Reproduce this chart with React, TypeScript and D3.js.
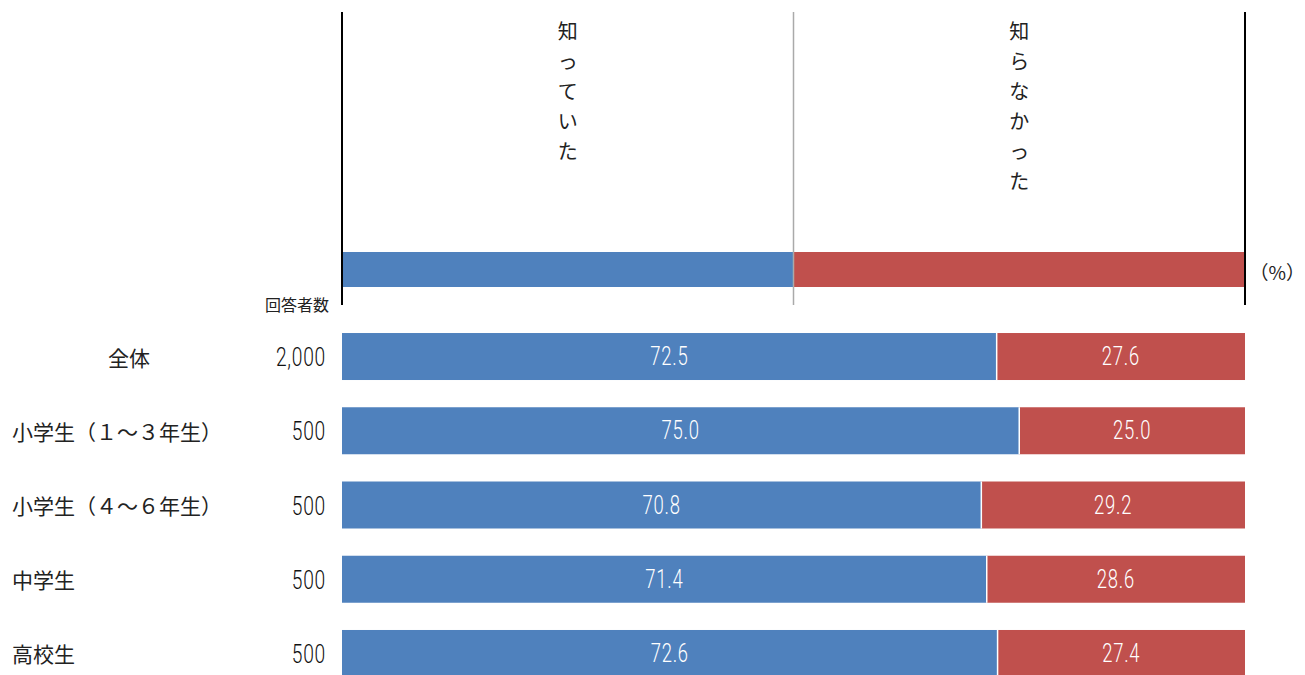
import React from "react";
import * as d3 from "d3";

const categories = ["全体", "小学生（１～３年生）", "小学生（４～６年生）", "中学生", "高校生"];
const counts = ["2,000", "500", "500", "500", "500"];
const knew = [72.5, 75.0, 70.8, 71.4, 72.6];
const didNotKnow = [27.6, 25.0, 29.2, 28.6, 27.4];
const seriesNames = ["知っていた", "知らなかった"];
const colors = ["#4f81bd", "#c0504d"];

const W = 1305;
const H = 675;
const X0 = 342;
const X1 = 1245;

export default function App() {
  const x = d3.scaleLinear().domain([0, 100]).range([X0, X1]);
  const y = d3
    .scaleBand<string>()
    .domain(categories)
    .range([319.4, 690.6])
    .paddingInner(0.367)
    .paddingOuter(0.1835);
  const bw = y.bandwidth();
  const jp = "'Noto Sans CJK JP', 'Noto Sans', sans-serif";
  const num = "Roboto, 'Liberation Sans', sans-serif";

  const numText = (
    key: string,
    cx: number,
    cy: number,
    s: string,
    fill: string,
    anchor: "middle" | "end",
    size: number
  ) => (
    <text
      key={key}
      transform={`translate(${cx},${cy}) scale(0.74,1)`}
      textAnchor={anchor}
      dominantBaseline="central"
      fontFamily={num}
      fontWeight={300}
      fontSize={size}
      fill={fill}
      letterSpacing={1}
      style={{ fontVariantNumeric: "tabular-nums" }}
    >
      {s}
    </text>
  );

  const legendY0 = 252;
  const legendY1 = 287;
  const mid = x(50);

  return (
    <svg
      width={W}
      height={H}
      style={{ position: "absolute", left: 0, top: 0, background: "#fff" }}
    >
      {/* header legend bar */}
      <rect x={x(0)} y={legendY0} width={x(50) - x(0)} height={legendY1 - legendY0} fill={colors[0]} />
      <rect x={x(50)} y={legendY0} width={x(100) - x(50)} height={legendY1 - legendY0} fill={colors[1]} />
      <line x1={X0} x2={X0} y1={12} y2={305} stroke="#000" strokeWidth={2} />
      <line x1={X1} x2={X1} y1={12} y2={305} stroke="#000" strokeWidth={2} />
      <line x1={mid} x2={mid} y1={12} y2={305} stroke="#aaa" strokeWidth={1.5} />

      {/* vertical legend labels */}
      {seriesNames.map((name, si) => {
        const cx = si === 0 ? (x(0) + x(50)) / 2 : (x(50) + x(100)) / 2;
        return Array.from(name).map((ch, i) => (
          <text
            key={`${si}-${i}`}
            x={cx}
            y={30 + i * 30}
            textAnchor="middle"
            dominantBaseline="central"
            fontFamily={jp}
            fontSize={20}
            fill="#222"
          >
            {ch}
          </text>
        ));
      })}

      <text x={1305} y={271} textAnchor="end" dominantBaseline="central" fontFamily={jp} fontSize={19} fill="#222">
        （%）
      </text>
      <text x={329} y={304} textAnchor="end" dominantBaseline="central" fontFamily={jp} fontSize={16} fill="#222">
        回答者数
      </text>

      {/* rows */}
      {categories.map((c, i) => {
        const yy = y(c)!;
        const cy = yy + bw / 2;
        const a = knew[i];
        const b = didNotKnow[i];
        const xa = x(a);
        return (
          <g key={c}>
            <rect x={x(0)} y={yy} width={xa - x(0)} height={bw} fill={colors[0]} />
            <rect x={xa} y={yy} width={Math.min(x(a + b), X1) - xa} height={bw} fill={colors[1]} />
            <line x1={xa} x2={xa} y1={yy} y2={yy + bw} stroke="#fff" strokeWidth={1.5} />
            {numText(`a${i}`, (x(0) + xa) / 2, cy, a.toFixed(1), "#fff", "middle", 25)}
            {numText(`b${i}`, (xa + X1) / 2, cy, b.toFixed(1), "#fff", "middle", 25)}
            {numText(`n${i}`, 326, cy + 1, counts[i], "#111", "end", 26)}
            <text
              x={i === 0 ? 129 : 12}
              y={cy}
              textAnchor={i === 0 ? "middle" : "start"}
              dominantBaseline="central"
              fontFamily={jp}
              fontSize={21}
              fill="#222"
            >
              {c}
            </text>
          </g>
        );
      })}
    </svg>
  );
}
